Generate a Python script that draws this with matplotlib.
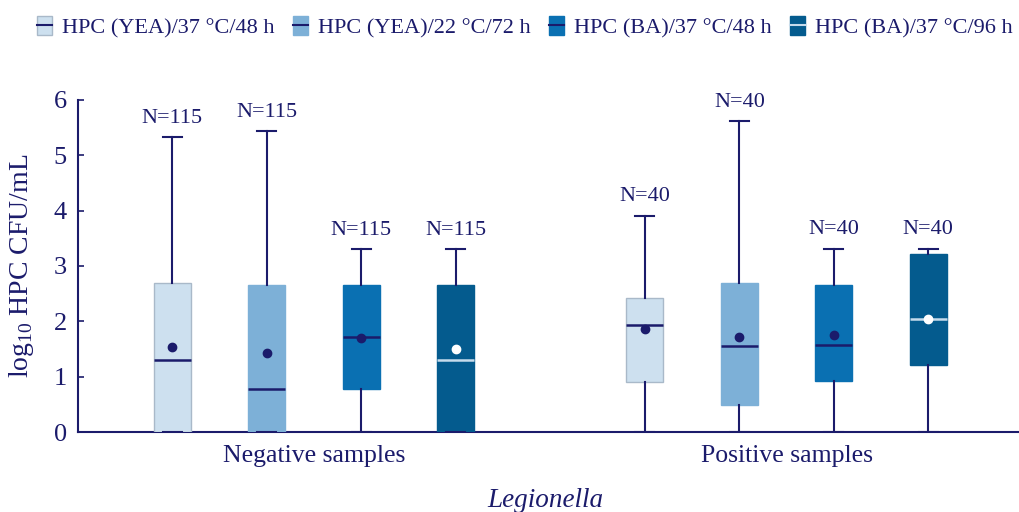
import matplotlib
matplotlib.use('Agg')
import matplotlib.pyplot as plt
from matplotlib.patches import Patch
from matplotlib.lines import Line2D

plt.rcParams['font.family'] = ['Liberation Serif', 'DejaVu Serif']
plt.rcParams['mathtext.fontset'] = 'custom'
plt.rcParams['mathtext.rm'] = 'Liberation Serif'

navy = '#1b1b6b'

# data
series = ['HPC (YEA)/37 °C/48 h', 'HPC (YEA)/22 °C/72 h',
          'HPC (BA)/37 °C/48 h', 'HPC (BA)/37 °C/96 h']
groups = ['Negative samples', 'Positive samples']
n_obs = [115, 115, 115, 115, 40, 40, 40, 40]
whishi = [5.32, 5.43, 3.30, 3.30, 3.90, 5.61, 3.31, 3.31]
q3 = [2.70, 2.66, 2.66, 2.66, 2.43, 2.69, 2.65, 3.22]
med = [1.30, 0.78, 1.72, 1.30, 1.93, 1.56, 1.57, 2.04]
mean = [1.53, 1.42, 1.70, 1.51, 1.87, 1.71, 1.76, 2.05]
q1 = [0.0, 0.0, 0.78, 0.0, 0.91, 0.49, 0.93, 1.22]
whislo = [0.0] * 8

fills = ['#cde0ef', '#7db0d7', '#0a70b2', '#045b8e']
edges = ['#a9b9c9', '#7db0d7', '#0a70b2', '#045b8e']
medcol = [navy, navy, navy, '#c6dbec']
meancol = [navy, navy, navy, 'white']

positions = [1, 2, 3, 4, 6, 7, 8, 9]

fig = plt.figure(figsize=(10.19, 5.12), dpi=100)
ax = fig.add_axes([0.0765, 0.156, 0.9235, 0.649])

stats = []
for i in range(8):
    stats.append(dict(med=med[i], q1=q1[i], q3=q3[i], whislo=whislo[i],
                      whishi=whishi[i], mean=mean[i], fliers=[]))

for i, st in enumerate(stats):
    k = i % 4
    ax.bxp([st], positions=[positions[i]], widths=0.39, patch_artist=True,
           showmeans=True, showfliers=False, capwidths=0.2,
           boxprops=dict(facecolor=fills[k], edgecolor=edges[k], linewidth=1),
           whiskerprops=dict(color=navy, linewidth=1.5),
           capprops=dict(color=navy, linewidth=1.5),
           medianprops=dict(color=medcol[k], linewidth=1.8),
           meanprops=dict(marker='o', markerfacecolor=meancol[k],
                          markeredgecolor=meancol[k], markersize=6),
           zorder=3)
    ax.annotate('N=%d' % n_obs[i], (positions[i], whishi[i]),
                xytext=(0, 7), textcoords='offset points', ha='center',
                va='bottom', fontsize=16, color=navy)

ax.set_xlim(0, 9.96)
ax.set_ylim(0, 6)
ax.set_xticks([2.5, 7.5])
ax.set_xticklabels(groups, fontsize=18.5, color=navy)
ax.tick_params(axis='x', length=0, pad=9)
ax.set_yticks(range(7))
ax.tick_params(axis='y', direction='in', length=4, width=1.2, color=navy,
               labelsize=19, labelcolor=navy, pad=8)
for s in ['top', 'right']:
    ax.spines[s].set_visible(False)
for s in ['left', 'bottom']:
    ax.spines[s].set_color(navy)
    ax.spines[s].set_linewidth(1.5)
ax.set_ylabel('log$_{10}$ HPC CFU/mL', fontsize=20, color=navy)
ax.yaxis.set_label_coords(-0.045, 0.5)
fig.text(0.535, 0.023, 'Legionella', fontsize=19.5, style='italic', color=navy,
         ha='center', va='center')

handles = []
for k in range(4):
    handles.append((Patch(facecolor=fills[k], edgecolor=edges[k]),
                    Line2D([], [], color=medcol[k], linewidth=1.5)))
fig.legend(handles, series, loc='center', bbox_to_anchor=(0.515, 0.947), ncol=4,
           frameon=False, fontsize=16, labelcolor=navy, handlelength=0.7,
           handleheight=0.9, handletextpad=0.45, columnspacing=0.8)

fig.savefig('out.png', dpi=100)
